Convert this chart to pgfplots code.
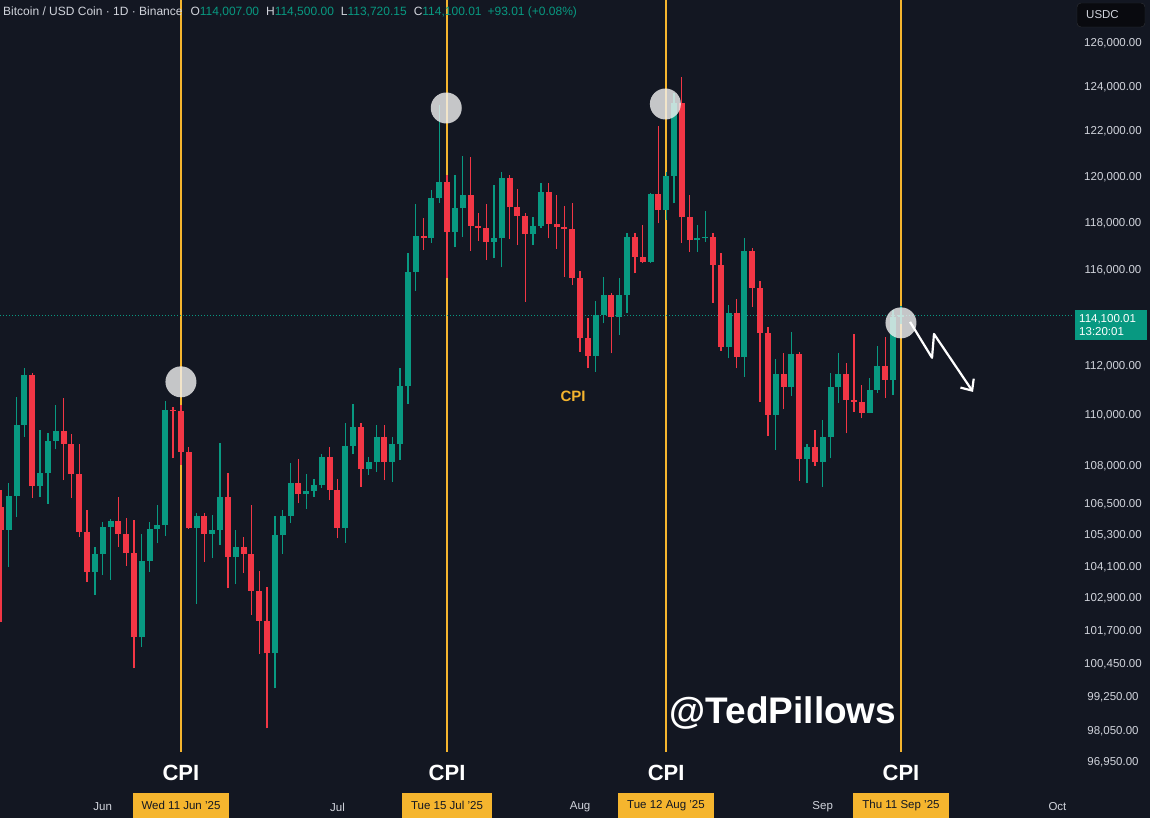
\documentclass[border=0pt]{standalone}
\usepackage{fontspec}
\setmainfont{Liberation Sans}
\usepackage{pgfplots}
\usepackage{pgfplotstable}
\pgfplotsset{compat=1.18}
\usetikzlibrary{arrows.meta}
\pgfdeclarelayer{background}
\pgfsetlayers{background,main}

\definecolor{bg}{HTML}{131722}
\definecolor{up}{HTML}{089981}
\definecolor{down}{HTML}{F23645}
\definecolor{txt}{HTML}{D1D4DC}
\definecolor{cpi}{HTML}{F5B52E}
\definecolor{ring}{HTML}{F2F2F2}

% BTC/USDC daily candles, d = days since 1 Jun 2025
\pgfplotstableread{
d o h l c
-13 106410 107060 102040 105510
-12 105510 107330 104100 106840
-11 106840 110760 106020 109625
-10 109625 111925 109160 111640
-9 111640 111730 106740 107215
-8 107215 109430 106800 107710
-7 107710 109320 106520 109000
-6 109000 110430 108660 109400
-5 109400 110700 107450 108870
-4 108870 109270 106740 107690
-3 107690 108870 105250 105450
-2 105450 106280 103540 103920
-1 103920 104870 103040 104590
0 104590 105830 103790 105640
1 105640 105920 103605 105870
2 105870 106800 104870 105360
3 105360 105960 104140 104620
4 104620 105895 100320 101460
5 101460 105360 101120 104340
6 104340 105830 103920 105550
7 105550 106480 105000 105700
8 105700 110600 105280 110230
9 110230 110350 108300 110190
10 110190 110430 108040 108570
11 108570 108750 105560 105600
12 105600 106160 102700 106050
13 106050 106180 104300 105360
14 105360 106090 104430 105510
15 105510 108920 104940 106770
16 106770 107740 103290 104490
17 104490 105510 103450 104850
18 104850 105230 103860 104590
19 104590 106480 102290 103190
20 103190 103960 100840 102070
21 102070 103330 98150 100870
22 100870 106050 99590 105320
23 105320 106280 104590 106050
24 106050 108130 105770 107340
25 107340 108260 106540 106900
26 106900 107690 106310 107030
27 107030 107480 106800 107250
28 107250 108470 107140 108340
29 108340 108760 106670 107060
30 107060 107480 105190 105580
31 105580 109720 105020 108790
32 108790 110470 108470 109560
33 109560 109720 107190 107870
34 107870 108370 107650 108170
35 108170 109625 107780 109160
36 109160 109625 107450 108170
37 108170 109160 107380 108870
38 108870 111910 108235 111200
39 111200 116730 110470 115930
40 115930 118820 115120 117440
41 117440 118200 116850 117340
42 117340 119430 117160 119070
43 119070 123190 118880 119760
44 119760 120080 115640 117630
45 117630 120080 116960 118630
46 118630 120920 117410 119210
47 119210 120860 116820 117890
48 117890 118450 117240 117770
49 117770 118820 116420 117200
50 117200 119650 116490 117340
51 117340 120230 116110 119940
52 119940 120080 117300 118680
53 118680 119460 117060 118300
54 118300 118450 114660 117530
55 117530 118270 117060 117890
56 117890 119750 117770 119350
57 119350 119750 117340 117960
58 117960 119210 116880 117820
59 117820 118730 115710 117730
60 117730 118850 115360 115650
61 115650 115970 112590 113140
62 113140 113970 111910 112420
63 112420 114700 111780 114110
64 114110 115690 113760 114940
65 114940 115040 112530 114010
66 114010 115650 113280 114940
67 114940 117590 114180 117410
68 117410 117590 115860 116560
69 116560 117920 116280 116350
70 116350 119280 116300 119250
71 119250 122250 117990 118560
72 118560 120230 118130 120040
73 120040 123710 118850 123260
74 123260 124460 117160 118250
75 118250 119210 116770 117270
76 117270 117920 116770 117370
77 117370 118530 117200 117410
78 117410 117560 114620 116210
79 116210 116710 112640 112780
80 112780 114530 112320 114180
81 114180 114760 111910 112390
82 112390 117350 111570 116820
83 116820 116920 114460 115250
84 115250 115550 110560 113380
85 113380 113600 109190 110030
86 110030 112280 108630 111680
87 111680 112550 110250 111170
88 111170 113420 110790 112500
89 112500 112590 107420 108260
90 108260 108870 107320 108760
91 108760 109430 108000 108170
92 108170 109825 107190 109140
93 109140 111710 108300 111170
94 111170 112550 110500 111680
95 111680 112140 109290 110630
96 110630 113320 110160 110560
97 110560 111230 109890 110120
98 110120 111510 110090 111030
99 111030 112830 110920 112010
100 112010 113210 110700 111440
101 111440 114300 110830 114007
102 114007 114500 113720 114100
}\btc

% price scale is logarithmic: y = ln(price)
\begin{document}
\begin{tikzpicture}[x=1pt,y=1pt]
\begin{axis}[
    width=1065pt, height=792pt, scale only axis,
    xmin=-13.12, xmax=122.96,
    ymin=11.471009, ymax=11.759715,
    axis line style={draw=none},
    major tick length=0pt,
    xtick={0,30,61,92,122},
    xticklabels={Jun,Jul,Aug,Sep,Oct},
    xticklabel style={font=\fontsize{11.5}{13}\selectfont, text=txt, anchor=center, yshift=-15pt},
    ytick={11.744037,11.728036,11.711776,11.695247,11.678439,11.661345,11.626254,11.608235,11.589886,11.575900,11.564568,11.553107,11.541512,11.529782,11.517415,11.505397,11.493232,11.481950},
    yticklabels={{126,000.00},{124,000.00},{122,000.00},{120,000.00},{118,000.00},{116,000.00},{112,000.00},{110,000.00},{108,000.00},{106,500.00},{105,300.00},{104,100.00},{102,900.00},{101,700.00},{100,450.00},{99,250.00},{98,050.00},{96,950.00}},
    yticklabel pos=right,
    yticklabel style={font=\fontsize{11.5}{13}\selectfont, text=txt, anchor=center, xshift=48pt},
    clip=false,
]
% CPI days
\addplot[cpi, line width=1.6pt] coordinates {(10,11.485554) (10,11.759715)};
\addplot[cpi, line width=1.6pt] coordinates {(44,11.485554) (44,11.759715)};
\addplot[cpi, line width=1.6pt] coordinates {(72,11.485554) (72,11.759715)};
\addplot[cpi, line width=1.6pt] coordinates {(102,11.485554) (102,11.759715)};

% last price 114,100.01
\addplot[up, line width=0.8pt, dash pattern=on 1pt off 2pt] coordinates {(-13.12,11.644830) (123.9,11.644830)};

% wicks
\addplot[draw=none, mark=none, error bars/.cd, y dir=plus, y explicit, error mark=none,
    error bar style={line width=1.3pt, draw=up}]
    table[x=d, y expr={\thisrow{c}>=\thisrow{o} ? ln(\thisrow{l}) : nan}, y error plus expr={ln(\thisrow{h})-ln(\thisrow{l})}] {\btc};
\addplot[draw=none, mark=none, error bars/.cd, y dir=plus, y explicit, error mark=none,
    error bar style={line width=1.3pt, draw=down}]
    table[x=d, y expr={\thisrow{c}<\thisrow{o} ? ln(\thisrow{l}) : nan}, y error plus expr={ln(\thisrow{h})-ln(\thisrow{l})}] {\btc};
% bodies
\addplot[draw=none, mark=none, error bars/.cd, y dir=plus, y explicit, error mark=none,
    error bar style={line width=6pt, draw=up}]
    table[x=d, y expr={\thisrow{c}>=\thisrow{o} ? ln(\thisrow{o}) : nan}, y error plus expr={ln(\thisrow{c})-ln(\thisrow{o})}] {\btc};
\addplot[draw=none, mark=none, error bars/.cd, y dir=plus, y explicit, error mark=none,
    error bar style={line width=6pt, draw=down}]
    table[x=d, y expr={\thisrow{c}<\thisrow{o} ? ln(\thisrow{c}) : nan}, y error plus expr={ln(\thisrow{o})-ln(\thisrow{c})}] {\btc};

% highlights
\fill[ring, opacity=0.8] (axis cs:10,11.620523) circle[radius=15.5pt];
\fill[ring, opacity=0.8] (axis cs:43.9,11.720346) circle[radius=15.5pt];
\fill[ring, opacity=0.8] (axis cs:71.9,11.721808) circle[radius=15.5pt];
\fill[ring, opacity=0.8] (axis cs:102,11.642022) circle[radius=15.5pt];

\draw[white, line width=2.2pt, line join=round, -{Straight Barb[length=9pt, width=16pt]}]
    (axis cs:103.16,11.642373) -- (axis cs:105.97,11.629285) -- (axis cs:106.22,11.637970) -- (axis cs:111.21,11.616834);

\node[text=cpi, font=\bfseries\fontsize{15}{17}\selectfont] at (axis cs:60.1,11.615391) {CPI};
\node[text=white, font=\bfseries\fontsize{22}{24}\selectfont] at (axis cs:10,11.477919) {CPI};
\node[text=white, font=\bfseries\fontsize{22}{24}\selectfont] at (axis cs:44,11.477919) {CPI};
\node[text=white, font=\bfseries\fontsize{22}{24}\selectfont] at (axis cs:72,11.477919) {CPI};
\node[text=white, font=\bfseries\fontsize{22}{24}\selectfont] at (axis cs:102,11.477919) {CPI};
\node[text=white, font=\bfseries\fontsize{37}{40}\selectfont] at (axis cs:86.93,11.499840) {@TedPillows};

\coordinate (bl) at (rel axis cs:0,0);
\end{axis}

\pgfresetboundingbox
\begin{scope}[shift={(bl)}, yshift=-26pt]
\path[use as bounding box] (0,0) rectangle (1150,818);
\begin{pgfonlayer}{background}
\fill[bg] (0,0) rectangle (1150,818);
\end{pgfonlayer}

% header
\node[anchor=west, text=txt, font=\fontsize{12}{14}\selectfont, inner sep=0] at (3,806)
  {Bitcoin / USD Coin · 1D · Binance\hspace{8pt}O\textcolor{up}{114,007.00}\hspace{7pt}H\textcolor{up}{114,500.00}\hspace{7pt}L\textcolor{up}{113,720.15}\hspace{7pt}C\textcolor{up}{114,100.01}\hspace{6pt}\textcolor{up}{+93.01 (+0.08\%)}};

% currency box
\draw[draw=black!30!bg!70!gray, fill=black!55!bg, rounded corners=4pt] (1077,791) rectangle (1145,815);
\node[anchor=west, text=txt, font=\fontsize{11.5}{13}\selectfont, inner sep=0] at (1086,803) {USDC};

% last price box
\fill[up] (1075,478) rectangle (1147,508);
\node[anchor=west, align=left, text=white, font=\fontsize{11.5}{13}\selectfont, inner sep=0] at (1079,493) {114,100.01\\13:20:01};

% date boxes
\node[fill=cpi, text=bg, font=\fontsize{11.5}{13}\selectfont, minimum height=25pt, inner xsep=9pt] at (181,12.5) {Wed 11 Jun '25};
\node[fill=cpi, text=bg, font=\fontsize{11.5}{13}\selectfont, minimum height=25pt, inner xsep=9pt] at (447,12.5) {Tue 15 Jul '25};
\node[fill=cpi, text=bg, font=\fontsize{11.5}{13}\selectfont, minimum height=25pt, inner xsep=9pt] at (666,12.5) {Tue 12 Aug '25};
\node[fill=cpi, text=bg, font=\fontsize{11.5}{13}\selectfont, minimum height=25pt, inner xsep=9pt] at (901,12.5) {Thu 11 Sep '25};
\end{scope}
\end{tikzpicture}
\end{document}
